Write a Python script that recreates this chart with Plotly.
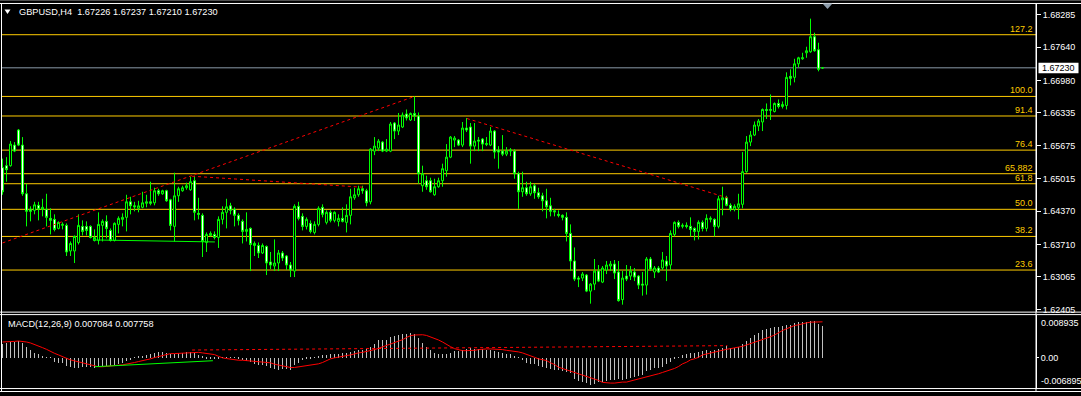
import plotly.graph_objects as go

W, H = 1081, 396

# ---------------- data ----------------
symbol = "GBPUSD,H4"
macd_name = "MACD(12,26,9)"
macd_last_txt = "0.007084"
signal_last_txt = "0.007758"

open_ = [1.6524, 1.6528, 1.6528, 1.6569, 1.6599, 1.6569, 1.6472, 1.6441, 1.6439, 1.6449,
         1.6441, 1.6441, 1.6423, 1.6421, 1.6403, 1.6409, 1.6409, 1.6358, 1.6358, 1.6375,
         1.6407, 1.6407, 1.6407, 1.6379, 1.6379, 1.6409, 1.6417, 1.6399, 1.6379, 1.6411,
         1.6421, 1.6425, 1.6456, 1.6448, 1.6443, 1.6445, 1.6453, 1.6456, 1.6454, 1.6478,
         1.6472, 1.6478, 1.6460, 1.6407, 1.6468, 1.6478, 1.6484, 1.6480, 1.6498, 1.6433,
         1.6429, 1.6375, 1.6389, 1.6391, 1.6385, 1.6421, 1.6435, 1.6448, 1.6441, 1.6429,
         1.6417, 1.6397, 1.6403, 1.6369, 1.6369, 1.6354, 1.6367, 1.6336, 1.6328, 1.6334,
         1.6354, 1.6348, 1.6330, 1.6318, 1.6447, 1.6427, 1.6407, 1.6413, 1.6395, 1.6411,
         1.6445, 1.6415, 1.6435, 1.6419, 1.6417, 1.6423, 1.6415, 1.6429, 1.6464, 1.6470,
         1.6482, 1.6478, 1.6456, 1.6557, 1.6563, 1.6575, 1.6557, 1.6557, 1.6613, 1.6597,
         1.6605, 1.6631, 1.6619, 1.6632, 1.6627, 1.6488, 1.6498, 1.6498, 1.6470, 1.6486,
         1.6498, 1.6518, 1.6545, 1.6579, 1.6579, 1.6569, 1.6603, 1.6605, 1.6567, 1.6579,
         1.6581, 1.6570, 1.6569, 1.6597, 1.6559, 1.6557, 1.6551, 1.6557, 1.6557, 1.6512,
         1.6476, 1.6484, 1.6472, 1.6488, 1.6474, 1.6468, 1.6458, 1.6448, 1.6438, 1.6431,
         1.6429, 1.6425, 1.6393, 1.6338, 1.6304, 1.6304, 1.6310, 1.6278, 1.6292, 1.6318,
         1.6296, 1.6320, 1.6328, 1.6332, 1.6316, 1.6261, 1.6308, 1.6308, 1.6316, 1.6308,
         1.6292, 1.6290, 1.6342, 1.6316, 1.6324, 1.6324, 1.6338, 1.6330, 1.6391, 1.6415,
         1.6407, 1.6409, 1.6407, 1.6403, 1.6397, 1.6415, 1.6403, 1.6421, 1.6421, 1.6407,
         1.6460, 1.6464, 1.6449, 1.6441, 1.6445, 1.6451, 1.6516, 1.6575, 1.6589, 1.6607,
         1.6615, 1.6640, 1.6638, 1.6636, 1.6652, 1.6646, 1.6648, 1.6706, 1.6704, 1.6731,
         1.6741, 1.6753, 1.6755, 1.6785, 1.6759, 1.67226]

high = [1.6542, 1.6545, 1.6577, 1.6575, 1.6601, 1.6585, 1.6492, 1.6447, 1.6456, 1.6456,
        1.6462, 1.6472, 1.6443, 1.6431, 1.6417, 1.6415, 1.6413, 1.6377, 1.6389, 1.6431,
        1.6419, 1.6417, 1.6409, 1.6401, 1.6435, 1.6421, 1.6429, 1.6403, 1.6415, 1.6427,
        1.6433, 1.6470, 1.6466, 1.6456, 1.6458, 1.6476, 1.6470, 1.6496, 1.6484, 1.6482,
        1.6480, 1.6480, 1.6462, 1.6514, 1.6486, 1.6488, 1.6494, 1.6506, 1.6508, 1.6464,
        1.6433, 1.6395, 1.6397, 1.6397, 1.6427, 1.6447, 1.6462, 1.6454, 1.6445, 1.6433,
        1.6421, 1.6435, 1.6405, 1.6377, 1.6375, 1.6373, 1.6369, 1.6356, 1.6381, 1.6360,
        1.6358, 1.6350, 1.6336, 1.6451, 1.6456, 1.6433, 1.6425, 1.6419, 1.6417, 1.6447,
        1.6451, 1.6439, 1.6439, 1.6437, 1.6431, 1.6445, 1.6451, 1.6482, 1.6484, 1.6488,
        1.6488, 1.6482, 1.6563, 1.6585, 1.6581, 1.6577, 1.6581, 1.6615, 1.6615, 1.6633,
        1.6634, 1.6640, 1.6634, 1.6666, 1.6634, 1.6528, 1.6508, 1.6504, 1.6502, 1.6504,
        1.6532, 1.6571, 1.6587, 1.6587, 1.6581, 1.6615, 1.6623, 1.6613, 1.6613, 1.6585,
        1.6583, 1.6585, 1.6605, 1.6599, 1.6567, 1.6589, 1.6565, 1.6563, 1.6561, 1.6516,
        1.6516, 1.6496, 1.6496, 1.6492, 1.6484, 1.6474, 1.6482, 1.6464, 1.6442, 1.6439,
        1.6431, 1.6435, 1.6411, 1.6365, 1.6308, 1.6316, 1.6312, 1.6294, 1.6342, 1.6330,
        1.6328, 1.6338, 1.6338, 1.6340, 1.6338, 1.6318, 1.6330, 1.6328, 1.6324, 1.6310,
        1.6316, 1.6346, 1.6346, 1.6328, 1.6328, 1.6356, 1.6348, 1.6399, 1.6417, 1.6419,
        1.6413, 1.6415, 1.6425, 1.6405, 1.6419, 1.6419, 1.6431, 1.6427, 1.6423, 1.6468,
        1.6486, 1.6468, 1.6453, 1.6451, 1.6472, 1.6555, 1.6587, 1.6597, 1.6616, 1.6621,
        1.6642, 1.6652, 1.6670, 1.6654, 1.6660, 1.6656, 1.6714, 1.6720, 1.6741, 1.6745,
        1.6753, 1.6765, 1.6821, 1.6793, 1.6773, 1.67237]

low = [1.6470, 1.6496, 1.6526, 1.6555, 1.6567, 1.6468, 1.6407, 1.6417, 1.6431, 1.6419,
       1.6427, 1.6407, 1.6391, 1.6397, 1.6401, 1.6401, 1.6348, 1.6348, 1.6334, 1.6371,
       1.6389, 1.6389, 1.6383, 1.6377, 1.6371, 1.6377, 1.6383, 1.6377, 1.6377, 1.6393,
       1.6407, 1.6397, 1.6431, 1.6437, 1.6435, 1.6443, 1.6445, 1.6449, 1.6449, 1.6468,
       1.6470, 1.6456, 1.6399, 1.6377, 1.6456, 1.6476, 1.6480, 1.6478, 1.6419, 1.6421,
       1.6346, 1.6356, 1.6387, 1.6381, 1.6364, 1.6411, 1.6403, 1.6431, 1.6407, 1.6409,
       1.6373, 1.6377, 1.6318, 1.6348, 1.6344, 1.6352, 1.6310, 1.6322, 1.6318, 1.6318,
       1.6338, 1.6320, 1.6306, 1.6306, 1.6419, 1.6399, 1.6401, 1.6393, 1.6391, 1.6407,
       1.6425, 1.6411, 1.6415, 1.6415, 1.6407, 1.6415, 1.6395, 1.6411, 1.6460, 1.6466,
       1.6472, 1.6447, 1.6451, 1.6549, 1.6557, 1.6555, 1.6555, 1.6555, 1.6581, 1.6589,
       1.6603, 1.6618, 1.6617, 1.6617, 1.6492, 1.6476, 1.6480, 1.6474, 1.6468, 1.6484,
       1.6486, 1.6506, 1.6543, 1.6565, 1.6567, 1.6565, 1.6595, 1.6532, 1.6557, 1.6557,
       1.6557, 1.6567, 1.6567, 1.6542, 1.6522, 1.6547, 1.6547, 1.6547, 1.6502, 1.6442,
       1.6466, 1.6468, 1.6468, 1.6462, 1.6462, 1.6437, 1.6423, 1.6427, 1.6427, 1.6425,
       1.6419, 1.6377, 1.6318, 1.6298, 1.6286, 1.6298, 1.6276, 1.6253, 1.6280, 1.6296,
       1.6294, 1.6312, 1.6318, 1.6302, 1.6257, 1.6251, 1.6298, 1.6300, 1.6298, 1.6282,
       1.6269, 1.6271, 1.6318, 1.6304, 1.6314, 1.6320, 1.6298, 1.6320, 1.6387, 1.6403,
       1.6403, 1.6403, 1.6387, 1.6379, 1.6381, 1.6397, 1.6397, 1.6415, 1.6387, 1.6403,
       1.6429, 1.6447, 1.6437, 1.6437, 1.6421, 1.6443, 1.6514, 1.6567, 1.6587, 1.6597,
       1.6597, 1.6621, 1.6619, 1.6634, 1.6642, 1.6642, 1.6640, 1.6688, 1.6694, 1.6724,
       1.6739, 1.6743, 1.6753, 1.6755, 1.6716, 1.67210]

close = [1.6476, 1.6520, 1.6571, 1.6557, 1.6569, 1.6472, 1.6437, 1.6437, 1.6450, 1.6441,
         1.6445, 1.6425, 1.6419, 1.6401, 1.6415, 1.6411, 1.6356, 1.6373, 1.6387, 1.6409,
         1.6397, 1.6399, 1.6385, 1.6385, 1.6411, 1.6417, 1.6403, 1.6379, 1.6413, 1.6423,
         1.6425, 1.6456, 1.6448, 1.6446, 1.6448, 1.6454, 1.6456, 1.6453, 1.6478, 1.6472,
         1.6478, 1.6458, 1.6409, 1.6468, 1.6482, 1.6484, 1.6488, 1.6496, 1.6435, 1.6431,
         1.6377, 1.6391, 1.6393, 1.6385, 1.6421, 1.6435, 1.6446, 1.6439, 1.6429, 1.6419,
         1.6397, 1.6401, 1.6371, 1.6373, 1.6354, 1.6369, 1.6334, 1.6330, 1.6334, 1.6354,
         1.6344, 1.6330, 1.6320, 1.6447, 1.6423, 1.6407, 1.6421, 1.6397, 1.6411, 1.6443,
         1.6431, 1.6435, 1.6419, 1.6435, 1.6423, 1.6417, 1.6429, 1.6466, 1.6470, 1.6482,
         1.6478, 1.6454, 1.6561, 1.6567, 1.6577, 1.6557, 1.6561, 1.6611, 1.6597, 1.6609,
         1.6629, 1.6623, 1.6632, 1.6627, 1.6512, 1.6512, 1.6486, 1.6476, 1.6486, 1.6498,
         1.6522, 1.6545, 1.6585, 1.6583, 1.6569, 1.6603, 1.6599, 1.6567, 1.6577, 1.6577,
         1.6571, 1.6572, 1.6597, 1.6555, 1.6555, 1.6551, 1.6557, 1.6559, 1.6512, 1.6476,
         1.6484, 1.6472, 1.6486, 1.6474, 1.6466, 1.6458, 1.6446, 1.6437, 1.6436, 1.6429,
         1.6425, 1.6393, 1.6338, 1.6302, 1.6302, 1.6312, 1.6278, 1.6292, 1.6318, 1.6298,
         1.6324, 1.6330, 1.6332, 1.6314, 1.6259, 1.6304, 1.6302, 1.6318, 1.6306, 1.6290,
         1.6290, 1.6342, 1.6322, 1.6324, 1.6316, 1.6340, 1.6328, 1.6393, 1.6415, 1.6407,
         1.6409, 1.6407, 1.6401, 1.6397, 1.6415, 1.6403, 1.6423, 1.6423, 1.6407, 1.6462,
         1.6464, 1.6449, 1.6441, 1.6447, 1.6452, 1.6516, 1.6575, 1.6589, 1.6609, 1.6617,
         1.6640, 1.6638, 1.6640, 1.6652, 1.6646, 1.6650, 1.6704, 1.6702, 1.6731, 1.6743,
         1.6743, 1.6757, 1.6785, 1.6757, 1.6720, 1.67230]

macd = [0.00334, 0.00375, 0.00392, 0.00392, 0.00416, 0.00368, 0.00271, 0.00189, 0.00126, 0.00085,
        0.00044, 0.00007, 0.00005, -0.00092, -0.00116, -0.00133, -0.00189, -0.00230, -0.00254, -0.00254,
        -0.00213, -0.00213, -0.00230, -0.00254, -0.00230, -0.00199, -0.00189, -0.00199, -0.00174, -0.00150,
        -0.00126, -0.00077, -0.00053, 0.00012, 0.00024, 0.00048, 0.00073, 0.00097, 0.00121, 0.00145,
        0.00145, 0.00133, 0.00097, 0.00109, 0.00121, 0.00133, 0.00145, 0.00157, 0.00121, 0.00073,
        0.00024, -0.00012, -0.00024, -0.00036, -0.00012, 0.00007, 0.00012, 0.00012, 0.00007, -0.00024,
        -0.00061, -0.00085, -0.00109, -0.00145, -0.00162, -0.00177, -0.00201, -0.00242, -0.00266, -0.00283,
        -0.00266, -0.00266, -0.00283, -0.00182, -0.00121, -0.00056, -0.00007, -0.00007, 0.00007, 0.00048,
        0.00065, 0.00065, 0.00090, 0.00090, 0.00090, 0.00114, 0.00114, 0.00145, 0.00169, 0.00194,
        0.00194, 0.00211, 0.00274, 0.00346, 0.00429, 0.00436, 0.00436, 0.00508, 0.00533, 0.00550,
        0.00588, 0.00588, 0.00613, 0.00588, 0.00491, 0.00370, 0.00274, 0.00194, 0.00128, 0.00090,
        0.00090, 0.00090, 0.00128, 0.00169, 0.00169, 0.00194, 0.00211, 0.00235, 0.00225, 0.00211,
        0.00211, 0.00194, 0.00194, 0.00169, 0.00145, 0.00128, 0.00090, 0.00090, 0.00024, 0.00007,
        -0.00056, -0.00114, -0.00138, -0.00153, -0.00194, -0.00218, -0.00249, -0.00274, -0.00291, -0.00291,
        -0.00315, -0.00332, -0.00356, -0.00516, -0.00557, -0.00598, -0.00622, -0.00660, -0.00637, -0.00598,
        -0.00574, -0.00557, -0.00540, -0.00540, -0.00516, -0.00540, -0.00516, -0.00477, -0.00453, -0.00436,
        -0.00419, -0.00315, -0.00291, -0.00249, -0.00235, -0.00211, -0.00153, -0.00097, -0.00031, 0.00007,
        0.00065, 0.00090, 0.00114, 0.00128, 0.00145, 0.00169, 0.00186, 0.00169, 0.00186, 0.00211,
        0.00235, 0.00291, 0.00249, 0.00235, 0.00266, 0.00332, 0.00412, 0.00491, 0.00557, 0.00613,
        0.00678, 0.00695, 0.00734, 0.00751, 0.00758, 0.00775, 0.00799, 0.00816, 0.00855, 0.00879,
        0.00872, 0.00872, 0.00894, 0.00894, 0.00830, 0.00775]

signal = [0.00380, 0.00380, 0.00387, 0.00395, 0.00404, 0.00395, 0.00380, 0.00356, 0.00322, 0.00291,
          0.00242, 0.00201, 0.00145, 0.00104, 0.00065, 0.00017, -0.00017, -0.00056, -0.00080, -0.00114,
          -0.00145, -0.00169, -0.00194, -0.00218, -0.00225, -0.00225, -0.00211, -0.00201, -0.00194, -0.00186,
          -0.00177, -0.00162, -0.00145, -0.00121, -0.00097, -0.00080, -0.00056, -0.00031, 0.00000, 0.00024,
          0.00056, 0.00080, 0.00097, 0.00097, 0.00104, 0.00114, 0.00114, 0.00128, 0.00138, 0.00128,
          0.00114, 0.00104, 0.00090, 0.00073, 0.00031, -0.00007, -0.00024, -0.00041, -0.00056, -0.00065,
          -0.00065, -0.00073, -0.00080, -0.00090, -0.00097, -0.00097, -0.00104, -0.00128, -0.00162, -0.00186,
          -0.00211, -0.00225, -0.00242, -0.00242, -0.00230, -0.00218, -0.00206, -0.00194, -0.00169, -0.00153,
          -0.00121, -0.00073, -0.00031, -0.00007, 0.00017, 0.00031, 0.00048, 0.00065, 0.00097, 0.00114,
          0.00128, 0.00145, 0.00169, 0.00194, 0.00225, 0.00259, 0.00291, 0.00332, 0.00356, 0.00404,
          0.00436, 0.00491, 0.00533, 0.00550, 0.00557, 0.00557, 0.00540, 0.00508, 0.00467, 0.00429,
          0.00380, 0.00315, 0.00266, 0.00218, 0.00186, 0.00169, 0.00169, 0.00169, 0.00177, 0.00194,
          0.00211, 0.00211, 0.00211, 0.00211, 0.00211, 0.00194, 0.00177, 0.00169, 0.00153, 0.00138,
          0.00114, 0.00073, 0.00031, 0.00007, -0.00031, -0.00056, -0.00073, -0.00128, -0.00169, -0.00235,
          -0.00266, -0.00291, -0.00322, -0.00356, -0.00387, -0.00419, -0.00453, -0.00491, -0.00525, -0.00557,
          -0.00605, -0.00622, -0.00622, -0.00622, -0.00605, -0.00598, -0.00598, -0.00574, -0.00557, -0.00533,
          -0.00508, -0.00484, -0.00453, -0.00429, -0.00395, -0.00363, -0.00332, -0.00298, -0.00266, -0.00218,
          -0.00153, -0.00114, -0.00056, -0.00031, 0.00007, 0.00065, 0.00090, 0.00114, 0.00128, 0.00162,
          0.00186, 0.00201, 0.00218, 0.00235, 0.00249, 0.00274, 0.00307, 0.00339, 0.00370, 0.00404,
          0.00436, 0.00477, 0.00508, 0.00550, 0.00613, 0.00661, 0.00702, 0.00751, 0.00782, 0.00799,
          0.00830, 0.00847, 0.00864, 0.00872, 0.00872, 0.00872]

price_ticks = [1.68285, 1.67640, 1.66980, 1.66335, 1.65675, 1.65015, 1.64370, 1.63710, 1.63065, 1.62405]
macd_max_label = "0.008935"
macd_min_label = "-0.006895"

fib_labels = ["127.2", "100.0", "91.4", "76.4", "65.882", "61.8", "50.0", "38.2", "23.6"]
fib_prices = [1.6789, 1.6666, 1.6627, 1.6559, 1.6512, 1.6492, 1.6441, 1.6387, 1.6320]

last_price = 1.67230

# hand-drawn objects (bar index, price / macd value)
red_trend1_x, red_trend1_y = [0, 103], [1.6374, 1.6666]
red_trend2_x, red_trend2_y = [47.4, 90.2], [1.6507, 1.6485]
red_trend3_x, red_trend3_y = [116.1, 181.2], [1.6622, 1.6464]
green_main_x, green_main_y = [22.6, 53.1], [1.6380, 1.6376]
green_macd_x, green_macd_y = [23.1, 52.6], [-0.00223, -0.00077]
red_macd_x, red_macd_y = [47.4, 181.2], [0.00184, 0.00291]

# ---------------- styling / layout ----------------
FONT = "Liberation Sans, Arial, sans-serif"
GREEN = "#00FF00"
FIB = "#FFCC00"
RED = "#FF0000"
SILVER = "#C0C0C0"
PLINE = "#8A99A8"

def pxx(x):
    return x / W

def pxy(y):
    return 1 - y / H

idx = list(range(len(close)))

MAIN_TOP, MAIN_BOT = 3.5, 314.5
MACD_TOP, MACD_BOT = 317.0, 391.5
PLOT_L, PLOT_R = 1.0, 1036.0

# price <-> pixel relation (1.68285 @ y15, 1.62405 @ y312.3)
p_per_px = (1.68285 - 1.62405) / (312.3 - 15.0)
main_range = [1.68285 - (MAIN_BOT - 15.0) * p_per_px, 1.68285 + (15.0 - MAIN_TOP) * p_per_px]
m_zero_px, m_px_per_unit = 360.3, 4130.0
macd_range = [-(MACD_BOT - m_zero_px) / m_px_per_unit, (m_zero_px - MACD_TOP) / m_px_per_unit]
x_range = [(PLOT_L - 2.5) / 4.0, (PLOT_R - 2.5) / 4.0]

fig = go.Figure()

fig.add_trace(go.Candlestick(
    x=idx, open=open_, high=high, low=low, close=close,
    increasing=dict(line=dict(color=GREEN, width=1), fillcolor="#000000"),
    decreasing=dict(line=dict(color=GREEN, width=1), fillcolor="#FFFFFF"),
    whiskerwidth=0, showlegend=False, hoverinfo="skip", xaxis="x", yaxis="y"))

for xs, ys in [(red_trend1_x, red_trend1_y), (red_trend2_x, red_trend2_y), (red_trend3_x, red_trend3_y)]:
    fig.add_trace(go.Scatter(x=xs, y=ys, mode="lines", line=dict(color=RED, width=1, dash="3px,3px"),
                             showlegend=False, hoverinfo="skip", xaxis="x", yaxis="y"))
fig.add_trace(go.Scatter(x=green_main_x, y=green_main_y, mode="lines", line=dict(color=GREEN, width=1),
                         showlegend=False, hoverinfo="skip", xaxis="x", yaxis="y"))

fig.add_trace(go.Bar(x=idx, y=macd, width=0.25, marker=dict(color=SILVER, line=dict(width=0)),
                     showlegend=False, hoverinfo="skip", xaxis="x2", yaxis="y2"))
fig.add_trace(go.Scatter(x=idx, y=signal, mode="lines", line=dict(color=RED, width=1),
                         showlegend=False, hoverinfo="skip", xaxis="x2", yaxis="y2"))
fig.add_trace(go.Scatter(x=green_macd_x, y=green_macd_y, mode="lines", line=dict(color=GREEN, width=1),
                         showlegend=False, hoverinfo="skip", xaxis="x2", yaxis="y2"))
fig.add_trace(go.Scatter(x=red_macd_x, y=red_macd_y, mode="lines", line=dict(color=RED, width=1, dash="3px,3px"),
                         showlegend=False, hoverinfo="skip", xaxis="x2", yaxis="y2"))

shapes = []
annotations = []

# fibonacci levels
for lab, p in zip(fib_labels, fib_prices):
    shapes.append(dict(type="line", xref="x domain", yref="y", x0=0, x1=1, y0=p, y1=p,
                       line=dict(color=FIB, width=1), layer="below"))
    annotations.append(dict(text=lab, xref="paper", yref="y", x=pxx(1034.5), y=p, xanchor="right",
                            yanchor="middle", yshift=6, showarrow=False,
                            font=dict(family=FONT, size=9, color=FIB)))

# current price line + label
shapes.append(dict(type="line", xref="x domain", yref="y", x0=0, x1=1, y0=last_price, y1=last_price,
                   line=dict(color=PLINE, width=1), layer="below"))
shapes.append(dict(type="rect", xref="paper", yref="y", x0=pxx(1038.5), x1=pxx(1078.5),
                   y0=last_price - 5.5 * p_per_px, y1=last_price + 5.0 * p_per_px,
                   fillcolor="#FFFFFF", line=dict(width=0), layer="above"))
annotations.append(dict(text=f"{last_price:.5f}", xref="paper", yref="y", x=pxx(1058.5), y=last_price,
                        xanchor="center", yanchor="middle", showarrow=False,
                        font=dict(family=FONT, size=9, color="#000000")))

# frame lines
for yy, col in [(0.5, "#505050"), (3.5, "#FFFFFF"), (314.5, "#FFFFFF"), (317.0, "#FFFFFF"),
                (391.5, "#FFFFFF"), (394.5, "#FFFFFF")]:
    shapes.append(dict(type="line", xref="paper", yref="paper", x0=0, x1=1, y0=pxy(yy), y1=pxy(yy),
                       line=dict(color=col, width=1)))
shapes.append(dict(type="line", xref="paper", yref="paper", x0=pxx(1.5), x1=pxx(1.5),
                   y0=pxy(3.5), y1=pxy(394.5), line=dict(color="#FFFFFF", width=1)))
shapes.append(dict(type="line", xref="paper", yref="paper", x0=pxx(1036.0), x1=pxx(1036.0),
                   y0=pxy(3.5), y1=pxy(394.5), line=dict(color="#FFFFFF", width=1)))

# shift marker triangle at top
shapes.append(dict(type="path", xref="paper", yref="paper",
                   path=f"M {pxx(822.5)} {pxy(3.5)} L {pxx(832.5)} {pxy(3.5)} L {pxx(827.5)} {pxy(9.0)} Z",
                   fillcolor="#8C9BAA", line=dict(width=0)))
# drop-down triangle near the title
shapes.append(dict(type="path", xref="paper", yref="paper",
                   path=f"M {pxx(4.5)} {pxy(9.5)} L {pxx(10.5)} {pxy(9.5)} L {pxx(7.5)} {pxy(14.0)} Z",
                   fillcolor="#FFFFFF", line=dict(width=0)))

title_txt = (f"{symbol}\u00a0\u00a0{open_[-1]:.5f} {high[-1]:.5f} {low[-1]:.5f} {close[-1]:.5f}")
annotations.append(dict(text=title_txt, xref="paper", yref="paper", x=pxx(16.5), y=pxy(12.0),
                        xanchor="left", yanchor="middle", showarrow=False,
                        font=dict(family=FONT, size=9.2, color="#FFFFFF")))
annotations.append(dict(text=f"{macd_name} {macd_last_txt} {signal_last_txt}", xref="paper", yref="paper",
                        x=pxx(5.5), y=pxy(326.0), xanchor="left", yanchor="middle", showarrow=False,
                        font=dict(family=FONT, size=9.2, color="#FFFFFF")))
annotations.append(dict(text=macd_max_label, xref="paper", yref="paper", x=pxx(1038.5), y=pxy(325.0),
                        xanchor="left", yanchor="middle", showarrow=False,
                        font=dict(family=FONT, size=9, color="#FFFFFF")))
annotations.append(dict(text=macd_min_label, xref="paper", yref="paper", x=pxx(1038.5), y=pxy(384.0),
                        xanchor="left", yanchor="middle", showarrow=False,
                        font=dict(family=FONT, size=9, color="#FFFFFF")))

fig.update_layout(
    width=W, height=H, margin=dict(l=0, r=0, t=0, b=0, pad=0),
    paper_bgcolor="#000000", plot_bgcolor="#000000",
    showlegend=False, hovermode=False, boxgap=0.5, boxgroupgap=0, bargap=0,
    font=dict(family=FONT, size=9, color="#FFFFFF"),
    xaxis=dict(domain=[pxx(PLOT_L), pxx(PLOT_R)], range=x_range, visible=False, anchor="y",
               rangeslider=dict(visible=False), fixedrange=True),
    xaxis2=dict(domain=[pxx(PLOT_L), pxx(PLOT_R)], range=x_range, visible=False, anchor="y2",
                matches="x", fixedrange=True),
    yaxis=dict(domain=[pxy(MAIN_BOT), pxy(MAIN_TOP)], range=main_range, side="right", anchor="x",
               showline=True, linecolor="#FFFFFF", linewidth=1, ticks="outside", ticklen=4,
               tickwidth=1, tickcolor="#FFFFFF", tickvals=price_ticks,
               ticktext=[f"{v:.5f}" for v in price_ticks],
               tickfont=dict(family=FONT, size=9, color="#FFFFFF"),
               showgrid=False, zeroline=False, fixedrange=True),
    yaxis2=dict(domain=[pxy(MACD_BOT), pxy(MACD_TOP)], range=macd_range, side="right", anchor="x2",
                showline=True, linecolor="#FFFFFF", linewidth=1, ticks="outside", ticklen=2,
                tickwidth=1, tickcolor="#FFFFFF", tickvals=[0], ticktext=["0.00"],
                tickfont=dict(family=FONT, size=9, color="#FFFFFF"),
                showgrid=False, zeroline=False, fixedrange=True),
    shapes=shapes, annotations=annotations,
)

fig.write_html("out.html")
